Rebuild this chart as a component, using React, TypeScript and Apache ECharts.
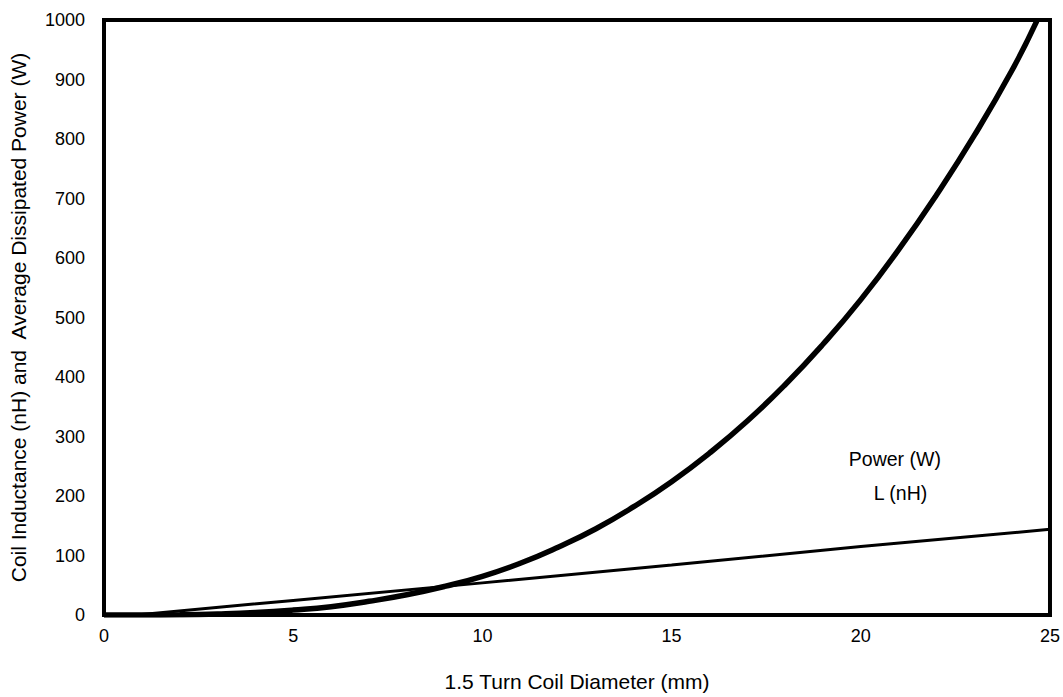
import React, { useEffect, useRef } from "react";
import * as echarts from "echarts";

const diameterPower = [0, 1, 2, 3, 4, 5, 6, 7, 8, 9, 10, 11, 12, 13, 14, 15, 16, 17, 18, 19, 20, 21, 22, 23, 24, 24.65];
const powerW = [0, 0.1, 0.5, 1.8, 4.2, 8.3, 14, 23, 34, 48, 65, 87, 114, 145, 182, 224, 272, 326, 387, 455, 530, 614, 706, 806, 916, 998];
const diameterL = [0, 1, 5, 10, 15, 20, 25];
const inductanceNH = [0, 1, 24.5, 54, 84, 115, 144];
const xTicks = [0, 5, 10, 15, 20, 25];
const yTicks = [0, 100, 200, 300, 400, 500, 600, 700, 800, 900, 1000];

const FONT = "'Liberation Sans', Arial, sans-serif";

export default function App() {
  const ref = useRef<HTMLDivElement>(null);
  useEffect(() => {
    if (!ref.current) return;
    const chart = echarts.init(ref.current, null, { renderer: "svg" });
    const txt = { color: "#000", fontFamily: FONT, fontSize: 18 };
    chart.setOption({
      animation: false,
      backgroundColor: "#fff",
      grid: { left: 102, right: 13, top: 20, bottom: 77, show: true, borderColor: "#000", borderWidth: 4 },
      xAxis: {
        type: "value",
        min: xTicks[0],
        max: xTicks[xTicks.length - 1],
        interval: 5,
        name: "1.5 Turn Coil Diameter (mm)",
        nameLocation: "middle",
        nameGap: 56,
        nameTextStyle: { ...txt, fontSize: 21 },
        axisLine: { show: false },
        axisTick: { show: false },
        splitLine: { show: false },
        axisLabel: { ...txt, margin: 12, formatter: (v: number) => String(v) },
      },
      yAxis: {
        type: "value",
        min: yTicks[0],
        max: yTicks[yTicks.length - 1],
        interval: 100,
        name: "Coil Inductance (nH) and  Average Dissipated Power (W)",
        nameLocation: "middle",
        nameGap: 75,
        nameTextStyle: { ...txt, fontSize: 21 },
        axisLine: { show: false },
        axisTick: { show: false },
        splitLine: { show: false },
        axisLabel: { ...txt, margin: 19, formatter: (v: number) => String(v) },
      },
      series: [
        {
          type: "line",
          name: "Power (W)",
          data: diameterPower.map((d, i) => [d, powerW[i]]),
          smooth: true,
          showSymbol: false,
          lineStyle: { color: "#000", width: 5.5 },
          markPoint: {
            symbol: "circle",
            symbolSize: 0,
            data: [{ coord: [20.9, 263], label: { show: true, formatter: "Power (W)", ...txt, fontSize: 19.5, position: "inside" } }],
          },
        },
        {
          type: "line",
          name: "L (nH)",
          data: diameterL.map((d, i) => [d, inductanceNH[i]]),
          showSymbol: false,
          lineStyle: { color: "#000", width: 3 },
          markPoint: {
            symbol: "circle",
            symbolSize: 0,
            data: [{ coord: [21.05, 205], label: { show: true, formatter: "L (nH)", ...txt, fontSize: 19.5, position: "inside" } }],
          },
        },
      ],
    });
    return () => chart.dispose();
  }, []);
  return <div ref={ref} style={{ width: 1063, height: 697, position: "absolute", left: 0, top: 0 }} />;
}
